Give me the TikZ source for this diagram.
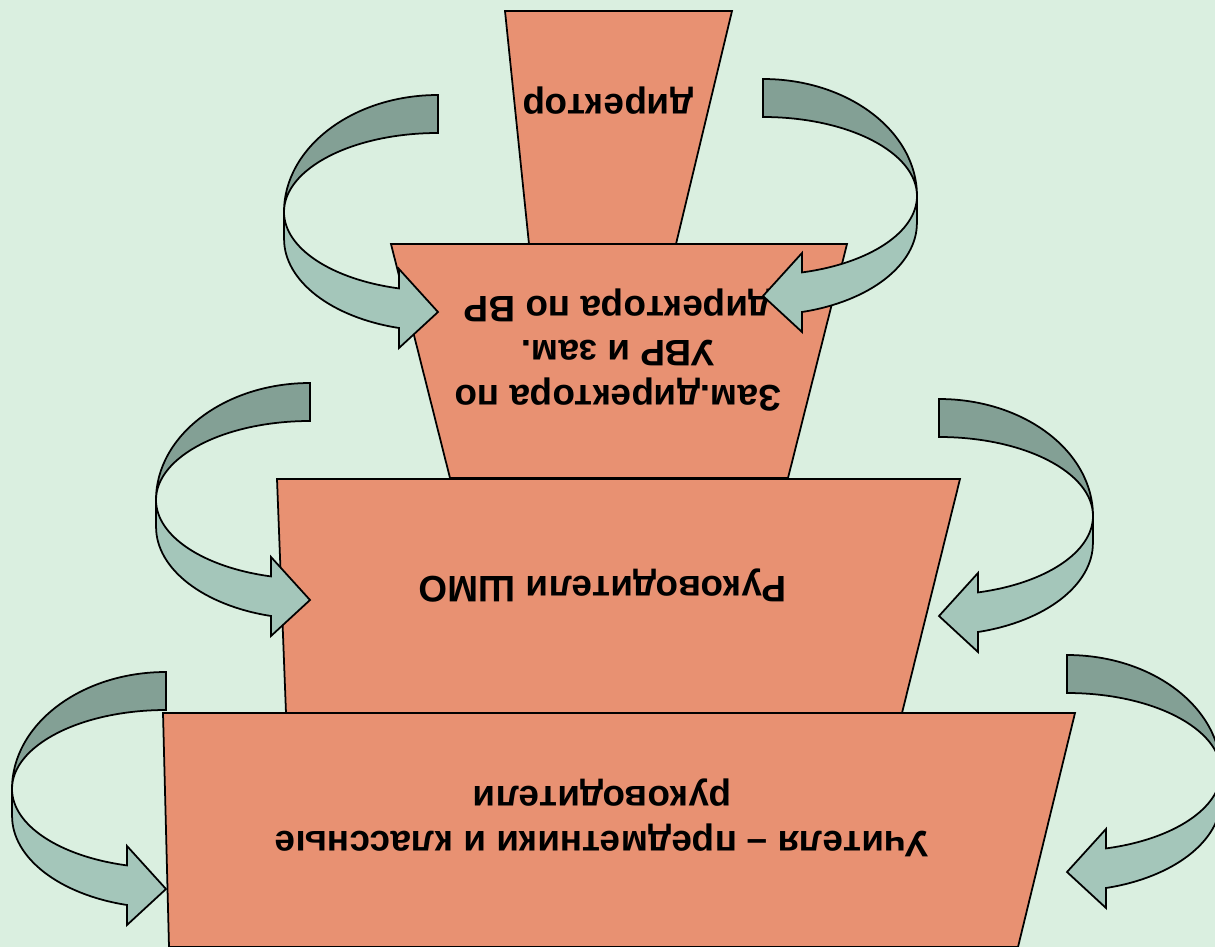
\documentclass[tikz,border=0pt]{standalone}
\usepackage{fontspec}
\setmainfont{Liberation Sans}
\usepackage{xcolor}
\usepackage{tikz}
\definecolor{SchoolBg}{RGB}{218, 239, 224}
\definecolor{SchoolTier}{RGB}{232, 145, 114}
\definecolor{SchoolArrowBack}{RGB}{131, 160, 149}
\definecolor{SchoolArrowFront}{RGB}{164, 198, 186}

\tikzset{
  tier/.style={fill=SchoolTier, draw=black, line width=1pt},
  tiertext/.style={rotate=180, align=center, text=black,
    font=\fontsize{21}{25.5}\selectfont\bfseries},
  pics/turnarrow/.style={code={
    % back band
    \filldraw[fill=SchoolArrowBack, draw=black, line width=1pt]
      (0,-117) arc[start angle=270, end angle=180, x radius=154, y radius=117]
      arc[start angle=180, end angle=270, x radius=154, y radius=79] -- cycle;
    % front band with head
    \filldraw[fill=SchoolArrowFront, draw=black, line width=1pt]
      (-154,0) arc[start angle=180, end angle=104.7, x radius=154, y radius=79]
      -- (-39,57) -- (0,100) -- (-39,136) -- (-39,116)
      arc[start angle=104.7, end angle=180, x radius=154, y radius=92] -- cycle;
  }}
}

\begin{document}
\begin{tikzpicture}[x=0.02cm, y=-0.02cm]
    % Background
    \useasboundingbox (0,0) rectangle (1215,947);
    \fill[SchoolBg] (0,0) rectangle (1215,947);
    \clip (0,0) rectangle (1215,947);

    % Tiers
    \filldraw[tier] (505,11) -- (732,11) -- (676,244) -- (529,244) -- cycle;
    \filldraw[tier] (391,244) -- (847,244) -- (788,478) -- (450,478) -- cycle;
    \filldraw[tier] (277,479) -- (960,479) -- (902,713) -- (286,713) -- cycle;
    \filldraw[tier] (163,713) -- (1075,713) -- (1018,947) -- (169,947) -- cycle;

    \node[tiertext] (director) at (608,101) {директор};
    \node[tiertext] (deputies) at (618,350) {Зам.директора по\\УВР и зам.\\директора по ВР};
    \node[tiertext] (heads) at (603,586) {Руководители ШМО};
    \node[tiertext] (teachers) at (602,818) {Учителя – предметники и классные\\руководители};

    % Arrows
    \pic at (438,212) {turnarrow};
    \pic[xscale=-1] at (763,196) {turnarrow};
    \pic at (310,500) {turnarrow};
    \pic[xscale=-1] at (939,516) {turnarrow};
    \pic at (166,789) {turnarrow};
    \pic[xscale=-1] at (1067,772) {turnarrow};
\end{tikzpicture}
\end{document}
